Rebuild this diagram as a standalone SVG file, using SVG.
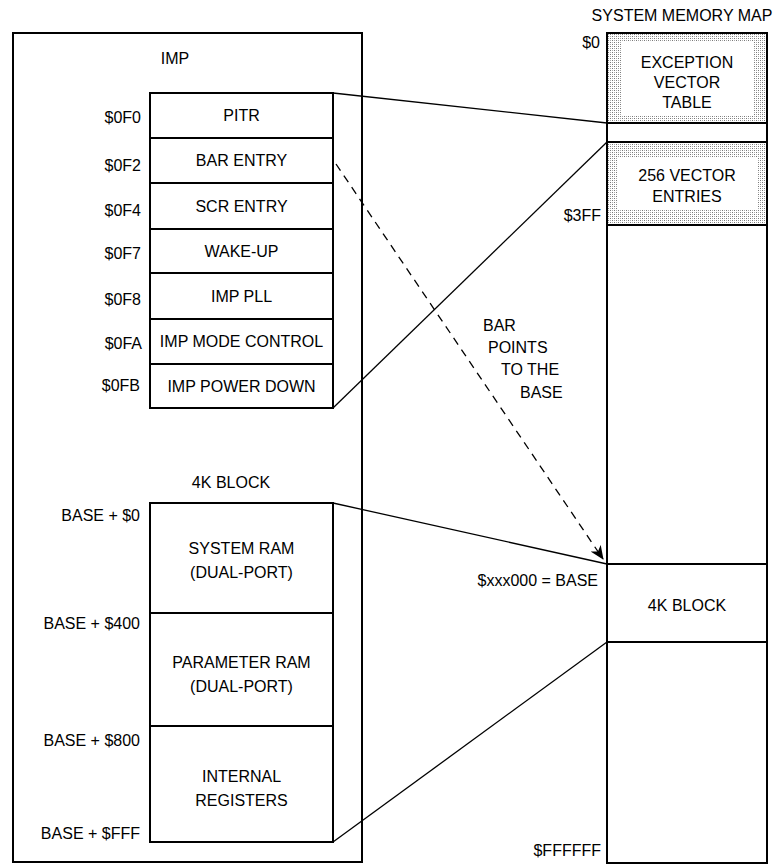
<svg xmlns="http://www.w3.org/2000/svg" width="780" height="866" viewBox="0 0 780 866">
<defs>
<pattern id="dots" width="4" height="4" patternUnits="userSpaceOnUse">
<rect width="4" height="4" fill="#fff"/>
<rect x="0" y="0" width="1" height="1" fill="#777"/>
<rect x="2" y="2" width="1" height="1" fill="#777"/>
<rect x="2" y="0" width="1" height="1" fill="#aaa"/>
<rect x="0" y="2" width="1" height="1" fill="#aaa"/>
</pattern>
<marker id="arr" viewBox="0 0 14 12" refX="13" refY="6" markerWidth="14" markerHeight="12" markerUnits="userSpaceOnUse" orient="auto">
<path d="M0,0 L14,6 L0,12 L4,6 Z" fill="#000"/>
</marker>
<style>
text{font-family:"Liberation Sans",Arial,sans-serif;font-size:16px;fill:#000}
.c{text-anchor:middle}
.r{text-anchor:end}
.box{fill:none;stroke:#000;stroke-width:2}
.cell{fill:#fff;stroke:#000;stroke-width:2}
.ln{fill:none;stroke:#000;stroke-width:1.3}
.dash{fill:none;stroke:#000;stroke-width:1.3;stroke-dasharray:8 6}
</style>
</defs>
<rect width="780" height="866" fill="#fff"/>

<g id="imp">
<rect class="box" x="13" y="33" width="349" height="829"/>
<text class="c" x="175" y="64">IMP</text>
</g>

<g id="imp-registers">
<g id="pitr"><rect class="cell" x="150" y="93" width="183" height="45"/><text class="c" x="241.5" y="121">PITR</text><text class="r" x="141" y="123">$0F0</text></g>
<g id="bar-entry"><rect class="cell" x="150" y="138" width="183" height="45"/><text class="c" x="241.5" y="166">BAR ENTRY</text><text class="r" x="141" y="171">$0F2</text></g>
<g id="scr-entry"><rect class="cell" x="150" y="183" width="183" height="46"/><text class="c" x="241.5" y="212">SCR ENTRY</text><text class="r" x="141" y="216">$0F4</text></g>
<g id="wake-up"><rect class="cell" x="150" y="229" width="183" height="44"/><text class="c" x="241.5" y="257">WAKE-UP</text><text class="r" x="141" y="259">$0F7</text></g>
<g id="imp-pll"><rect class="cell" x="150" y="273" width="183" height="46"/><text class="c" x="241.5" y="302">IMP PLL</text><text class="r" x="141" y="305">$0F8</text></g>
<g id="imp-mode-control"><rect class="cell" x="150" y="319" width="183" height="45"/><text class="c" x="241.5" y="347">IMP MODE CONTROL</text><text class="r" x="142" y="349">$0FA</text></g>
<g id="imp-power-down"><rect class="cell" x="150" y="364" width="183" height="44"/><text class="c" x="241.5" y="392">IMP POWER DOWN</text><text class="r" x="140" y="391">$0FB</text></g>
</g>

<g id="block4k">
<text class="c" x="231" y="488">4K BLOCK</text>
<g id="system-ram"><rect class="cell" x="150" y="503" width="183" height="110"/><text class="c" x="241.5" y="554">SYSTEM RAM</text><text class="c" x="241.5" y="578">(DUAL-PORT)</text><text class="r" x="140" y="521">BASE + $0</text></g>
<g id="parameter-ram"><rect class="cell" x="150" y="613" width="183" height="113"/><text class="c" x="241.5" y="668">PARAMETER RAM</text><text class="c" x="241.5" y="692">(DUAL-PORT)</text><text class="r" x="140" y="629">BASE + $400</text></g>
<g id="internal-registers"><rect class="cell" x="150" y="726" width="183" height="116"/><text class="c" x="241.5" y="782">INTERNAL</text><text class="c" x="241.5" y="806">REGISTERS</text><text class="r" x="140" y="746">BASE + $800</text><text class="r" x="140" y="839">BASE + $FFF</text></g>
</g>

<g id="system-memory-map">
<text class="c" x="682" y="21">SYSTEM MEMORY MAP</text>
<rect class="box" x="607" y="33" width="160" height="830"/>
<text class="r" x="600" y="48">$0</text>
<text class="r" x="601" y="221">$3FF</text>
<text class="r" x="601" y="856">$FFFFFF</text>
</g>

<g id="exception-vector-table">
<rect x="608" y="34" width="158" height="89" fill="url(#dots)"/>
<rect x="622" y="41" width="131" height="74" fill="#fff"/>
<rect x="607" y="33" width="160" height="90" fill="none" stroke="#000" stroke-width="2"/>
<text class="c" x="687" y="68">EXCEPTION</text>
<text class="c" x="687" y="88">VECTOR</text>
<text class="c" x="687" y="108">TABLE</text>
</g>

<g id="gap-row">
<rect x="607" y="123" width="160" height="19" fill="#fff" stroke="#000" stroke-width="2"/>
</g>

<g id="vector-entries">
<rect x="608" y="143" width="158" height="82" fill="url(#dots)"/>
<rect x="618" y="158" width="139" height="52" fill="#fff"/>
<rect x="607" y="142" width="160" height="83" fill="none" stroke="#000" stroke-width="2"/>
<text class="c" x="687" y="181">256 VECTOR</text>
<text class="c" x="687" y="202">ENTRIES</text>
</g>

<g id="map-4k-block">
<rect x="607" y="564" width="160" height="78" fill="#fff" stroke="#000" stroke-width="2"/>
<text class="c" x="687" y="611">4K BLOCK</text>
<text class="r" x="598" y="586">$xxx000 = BASE</text>
</g>

<g id="connectors">
<line class="ln" x1="333" y1="93" x2="607" y2="123"/>
<line class="ln" x1="333" y1="408" x2="607" y2="142"/>
<line class="dash" x1="336" y1="164" x2="603" y2="559" marker-end="url(#arr)"/>
<line class="ln" x1="333" y1="503" x2="607" y2="564"/>
<line class="ln" x1="333" y1="842" x2="607" y2="642"/>
</g>

<g id="bar-label">
<text x="483" y="331">BAR</text>
<text x="488" y="353">POINTS</text>
<text x="501" y="375">TO THE</text>
<text x="520" y="398">BASE</text>
</g>
</svg>
